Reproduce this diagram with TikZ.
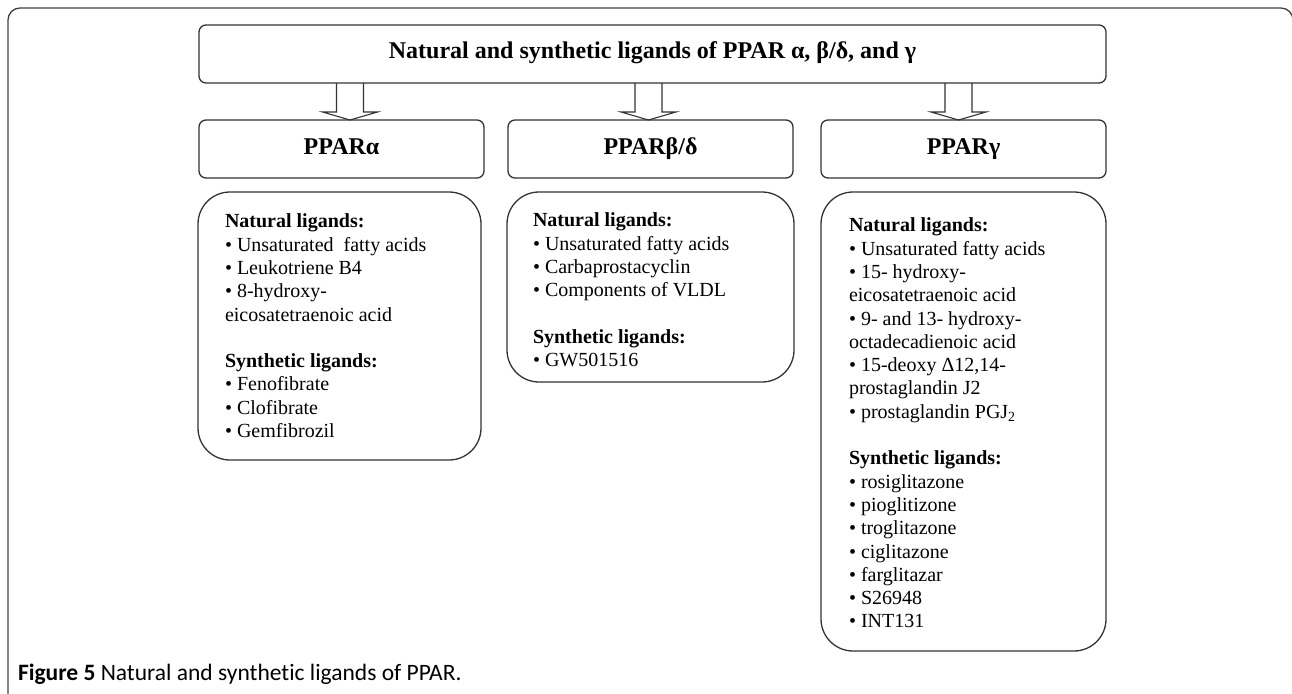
\documentclass[tikz,border=0pt]{standalone}
\usepackage{fontspec}
\setmainfont{Liberation Serif}
\newfontfamily\capfont[Ligatures=NoCommon]{Carlito}
\usetikzlibrary{positioning,calc}

\begin{document}
\begin{tikzpicture}[
  x=1pt, y=-1pt,
  every node/.style={inner sep=0pt, outer sep=0pt},
  headbox/.style={draw=black!80, line width=1.3pt, rounded corners=7pt, minimum height=58pt},
  ligbox/.style={draw=black!80, line width=1.3pt, rounded corners=32pt, anchor=north west},
  ligtext/.style={align=left, font=\fontsize{20}{23.3}\selectfont},
  blockarrow/.style={draw=black!80, line width=1.1pt, to path={
    ($(\tikztostart)+(-13.5,0)$) -- ($(\tikztotarget)+(-13.5,-8)$) -- ($(\tikztotarget)+(-27.5,-8)$)
    -- (\tikztotarget) -- ($(\tikztotarget)+(27.5,-8)$) -- ($(\tikztotarget)+(13.5,-8)$)
    -- ($(\tikztostart)+(13.5,0)$)}}
  ]
  \useasboundingbox (0,0) rectangle (1292,693);
  \clip (0,0) rectangle (1292,693);
  % outer frame
  \draw[black!75, line width=1.3pt, rounded corners=12pt] (8,8) rectangle (1293,740);

  \node[headbox, minimum width=907pt, text height=15pt, text depth=5pt,
    font=\bfseries\fontsize{24}{28}\selectfont] (ligands) at (652.5,54)
    {Natural and synthetic ligands of PPAR α, β/δ, and γ};

  \node[headbox, minimum width=285pt, text height=16pt, text depth=5pt,
    font=\bfseries\fontsize{24}{28}\selectfont] (alpha) at (341.5,149) {PPARα};
  \node[headbox, minimum width=285pt, text height=16pt, text depth=5pt,
    font=\bfseries\fontsize{24}{28}\selectfont] (beta) at (650.5,149) {PPARβ/δ};
  \node[headbox, minimum width=285pt, text height=16pt, text depth=5pt,
    font=\bfseries\fontsize{24}{28}\selectfont] (gamma) at (963.5,149) {PPARγ};

  \coordinate (a1) at (350,0);
  \coordinate (a2) at (648.5,0);
  \coordinate (a3) at (958.5,0);
  \foreach \ax/\tgt in {a1/alpha, a2/beta, a3/gamma}
    \draw[blockarrow] (ligands.south -| \ax) to (\tgt.north -| \ax);

  \node[ligbox, minimum width=283pt, minimum height=268pt] (alphalig) at (198,192) {};
  \node[ligtext, below right=22pt and 27pt of alphalig.north west] (alphatext)
    {\textbf{Natural ligands:}\\
     \textbullet\ Unsaturated\ \ fatty acids\\
     \textbullet\ Leukotriene B4\\
     \textbullet\ 8-hydroxy-\\
     eicosatetraenoic acid\\[23.3pt]
     \textbf{Synthetic ligands:}\\
     \textbullet\ Fenofibrate\\
     \textbullet\ Clofibrate\\
     \textbullet\ Gemfibrozil};

  \node[ligbox, minimum width=287pt, minimum height=190pt] (betalig) at (507,192) {};
  \node[ligtext, below right=21pt and 26pt of betalig.north west] (betatext)
    {\textbf{Natural ligands:}\\
     \textbullet\ Unsaturated fatty acids\\
     \textbullet\ Carbaprostacyclin\\
     \textbullet\ Components of VLDL\\[23.3pt]
     \textbf{Synthetic ligands:}\\
     \textbullet\ GW501516};

  \node[ligbox, minimum width=285pt, minimum height=459pt] (gammalig) at (821,192) {};
  \node[ligtext, below right=26pt and 28pt of gammalig.north west] (gammatext)
    {\textbf{Natural ligands:}\\
     \textbullet\ Unsaturated fatty acids\\
     \textbullet\ 15- hydroxy-\\
     eicosatetraenoic acid\\
     \textbullet\ 9- and 13- hydroxy-\\
     octadecadienoic acid\\
     \textbullet\ 15-deoxy Δ12,14-\\
     prostaglandin J2\\
     \textbullet\ prostaglandin PGJ\textsubscript{2}\\[23.3pt]
     \textbf{Synthetic ligands:}\\
     \textbullet\ rosiglitazone\\
     \textbullet\ pioglitizone\\
     \textbullet\ troglitazone\\
     \textbullet\ ciglitazone\\
     \textbullet\ farglitazar\\
     \textbullet\ S26948\\
     \textbullet\ INT131};

  \node[anchor=base west, font=\capfont\fontsize{23.5}{28}\selectfont] (caption) at (18,680)
    {\textbf{Figure 5} Natural and synthetic ligands of PPAR.};
\end{tikzpicture}
\end{document}
